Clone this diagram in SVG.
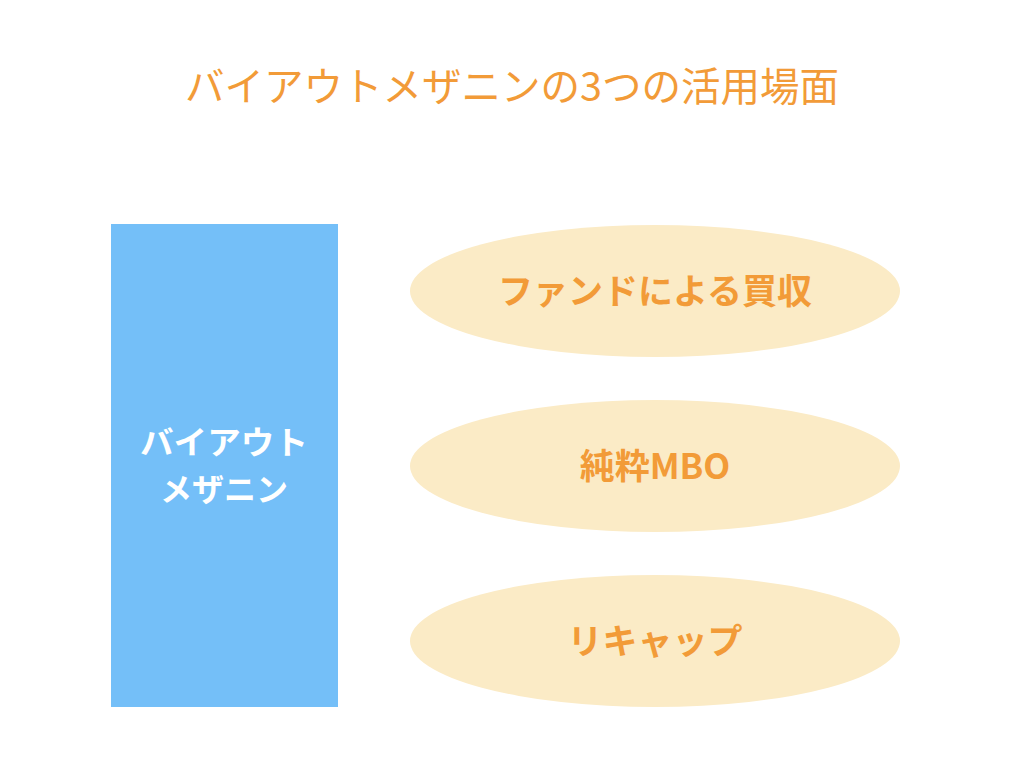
<svg xmlns="http://www.w3.org/2000/svg" width="1024" height="768" viewBox="0 0 1024 768">
<style>
.t{font-family:"Noto Sans CJK JP","Noto Sans",sans-serif;text-anchor:middle}
.lab{font-size:35px;font-weight:bold;fill:#F29B38}
.ell{fill:#FBEBC6}
</style>
<rect width="1024" height="768" fill="#FFFFFF"/>
<text class="t" x="512" y="101" font-size="39.5" fill="#F29B38">バイアウトメザニンの3つの活用場面</text>
<g id="main">
<rect x="111" y="224" width="227" height="483" fill="#74BFF8"/>
<text class="t" x="224" y="454" font-size="32" font-weight="bold" fill="#FFFFFF" textLength="168" lengthAdjust="spacingAndGlyphs">バイアウト</text>
<text class="t" x="224" y="501" font-size="32" font-weight="bold" fill="#FFFFFF">メザニン</text>
</g>
<g id="fund">
<ellipse class="ell" cx="655" cy="291" rx="245" ry="66"/>
<text class="t lab" x="655" y="304">ファンドによる買収</text>
</g>
<g id="mbo">
<ellipse class="ell" cx="655" cy="466" rx="245" ry="66"/>
<text class="t lab" x="655" y="479">純粋MBO</text>
</g>
<g id="recap">
<ellipse class="ell" cx="655" cy="641" rx="245" ry="66"/>
<text class="t lab" x="655" y="654">リキャップ</text>
</g>
<g id="connectors"></g>
</svg>
